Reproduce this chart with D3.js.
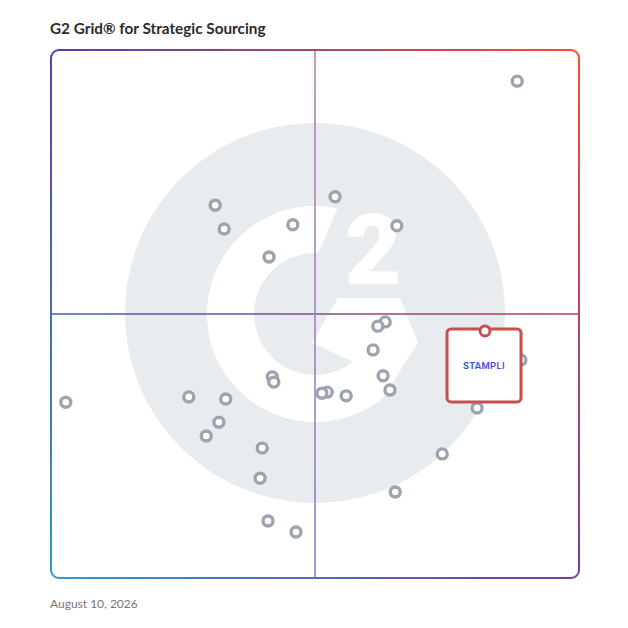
<!DOCTYPE html>
<html>
<head>
<meta charset="utf-8">
<script src="https://cdn.jsdelivr.net/npm/d3@7"></script>
<style>
  body { margin: 0; background: #fff; }
  svg { display: block; }
</style>
</head>
<body>
<script>
// DATA
// market presence (x) and satisfaction (y), 0-100 scale
const marketPresence = [88.3, 31.1, 32.8, 45.8, 53.8, 65.5, 41.3, 63.3, 61.9, 61.0,
  62.9, 64.2, 89.0, 80.7, 41.9, 42.2, 52.3, 51.3, 55.9, 26.1,
  33.1, 31.8, 29.4, 2.8, 40.0, 74.1, 39.6, 65.2, 41.1, 46.4];
const satisfaction = [94.1, 70.6, 66.1, 66.9, 72.2, 66.7, 60.8, 48.5, 47.7, 43.2,
  38.3, 35.6, 41.3, 32.2, 38.1, 37.1, 35.2, 35.0, 34.5, 34.3,
  33.9, 29.5, 26.9, 33.3, 24.6, 23.5, 18.9, 16.3, 10.8, 8.7];
const highlightName = ["STAMPLI"];
const highlightValue = [{x: 82.2, y: 46.8}];
const titleText = "G2 Grid\u00ae for Strategic Sourcing";
const dateText = "August 10, 2026";

const W = 628, H = 628;
const box = {left: 51, top: 50, right: 579, bottom: 578};

const svg = d3.select("body").append("svg")
  .attr("width", W).attr("height", H);

const x = d3.scaleLinear().domain([0, 100]).range([box.left, box.right]);
const y = d3.scaleLinear().domain([0, 100]).range([box.bottom, box.top]);

const defs = svg.append("defs");
function grad(id, x1, y1, x2, y2, c1, c2) {
  const g = defs.append("linearGradient").attr("id", id)
    .attr("gradientUnits", "userSpaceOnUse")
    .attr("x1", x1).attr("y1", y1).attr("x2", x2).attr("y2", y2);
  g.append("stop").attr("offset", 0).attr("stop-color", c1);
  g.append("stop").attr("offset", 1).attr("stop-color", c2);
}
const cTL = "#5a3db2", cTR = "#f4502a", cBR = "#7c3a9c", cBL = "#2b9ad6";
grad("gTop", box.left, 0, box.right, 0, cTL, cTR);
grad("gBottom", box.left, 0, box.right, 0, cBL, cBR);
grad("gLeft", 0, box.top, 0, box.bottom, cTL, cBL);
grad("gRight", 0, box.top, 0, box.bottom, cTR, cBR);
grad("gMidH", box.left, 0, box.right, 0, "#3a60b6", "#bd3d58");
grad("gMidV", 0, box.top, 0, box.bottom, "#b784b0", "#8a80cc");

const logoGrad = defs.append("linearGradient").attr("id", "gLogo")
  .attr("x1", 0).attr("x2", 1).attr("y1", 0).attr("y2", 0);
logoGrad.append("stop").attr("offset", 0).attr("stop-color", "#2453d6");
logoGrad.append("stop").attr("offset", 0.6).attr("stop-color", "#4a4ad2");
logoGrad.append("stop").attr("offset", 1).attr("stop-color", "#8a3fc8");

// background G2 mark
const cx = x(50), cy = y(50);
const bg = svg.append("g");
bg.append("circle").attr("cx", cx).attr("cy", cy - 1).attr("r", 190)
  .attr("fill", "#e9ecef");

const rad = d => d * Math.PI / 180;
const R = 108, r = 61;
const c = d3.path();
c.moveTo(cx + R * Math.cos(rad(-78)), cy + R * Math.sin(rad(-78)));
c.arc(cx, cy, R, rad(-78), rad(53), true);
c.lineTo(cx + r * Math.cos(rad(47)), cy + r * Math.sin(rad(47)));
c.arc(cx, cy, r, rad(47), rad(-87), false);
c.closePath();
bg.append("path").attr("d", c.toString()).attr("fill", "#fff");

const chevron = [[338, 298], [400, 298], [418, 343], [380, 402], [352, 361], [312, 343]];
bg.append("path").attr("d", d3.line()(chevron) + "Z").attr("fill", "#fff");

bg.append("text").attr("x", 373).attr("y", 284)
  .attr("text-anchor", "middle")
  .attr("font-family", "Roboto, sans-serif").attr("font-weight", 900)
  .attr("font-size", 98).attr("fill", "#fff")
  .text("2");

// quadrant lines
svg.append("line")
  .attr("x1", box.left).attr("x2", box.right).attr("y1", cy).attr("y2", cy)
  .attr("stroke", "url(#gMidH)").attr("stroke-width", 1.6);
svg.append("line")
  .attr("x1", cx).attr("x2", cx).attr("y1", box.top).attr("y2", box.bottom)
  .attr("stroke", "url(#gMidV)").attr("stroke-width", 1.6);

// border, one gradient per side
const rx = 8;
const border = svg.append("g").attr("fill", "none").attr("stroke-width", 2);
const topSide = d3.path();
topSide.moveTo(box.left, box.top + rx);
topSide.arcTo(box.left, box.top, box.left + rx, box.top, rx);
topSide.lineTo(box.right - rx, box.top);
topSide.arcTo(box.right, box.top, box.right, box.top + rx, rx);
border.append("path").attr("d", topSide.toString()).attr("stroke", "url(#gTop)");
const botSide = d3.path();
botSide.moveTo(box.left, box.bottom - rx);
botSide.arcTo(box.left, box.bottom, box.left + rx, box.bottom, rx);
botSide.lineTo(box.right - rx, box.bottom);
botSide.arcTo(box.right, box.bottom, box.right, box.bottom - rx, rx);
border.append("path").attr("d", botSide.toString()).attr("stroke", "url(#gBottom)");
border.append("line").attr("x1", box.left).attr("x2", box.left)
  .attr("y1", box.top + rx).attr("y2", box.bottom - rx).attr("stroke", "url(#gLeft)");
border.append("line").attr("x1", box.right).attr("x2", box.right)
  .attr("y1", box.top + rx).attr("y2", box.bottom - rx).attr("stroke", "url(#gRight)");

// products
const pts = marketPresence.map((d, i) => ({x: d, y: satisfaction[i]}));
svg.append("g").selectAll("circle").data(pts).join("circle")
  .attr("cx", d => x(d.x)).attr("cy", d => y(d.y)).attr("r", 5)
  .attr("fill", "#fff").attr("stroke", "#9ea3b0").attr("stroke-width", 3.4);

// highlighted product card
const hl = svg.append("g").selectAll("g").data(highlightValue).join("g")
  .attr("transform", d => `translate(${x(d.x)},${y(d.y)})`);
hl.append("rect").attr("x", -38).attr("y", -2).attr("width", 74).attr("height", 73)
  .attr("rx", 4).attr("fill", "#fff").attr("stroke", "#c4504f").attr("stroke-width", 3);
hl.append("circle").attr("r", 5).attr("fill", "#fff")
  .attr("stroke", "#c4504f").attr("stroke-width", 3);
hl.append("text").attr("x", -1).attr("y", 38.5).attr("text-anchor", "middle")
  .attr("font-family", "Roboto, sans-serif").attr("font-weight", 600)
  .attr("font-size", 9.5).attr("letter-spacing", 0.3)
  .attr("fill", "url(#gLogo)")
  .text((d, i) => highlightName[i]);

// title and date
svg.append("text").attr("x", 50).attr("y", 34)
  .attr("font-family", "Lato, sans-serif").attr("font-weight", 700)
  .attr("font-size", 15.3).attr("fill", "#2b2b2b")
  .text(titleText);
svg.append("text").attr("x", 50).attr("y", 608)
  .attr("font-family", "Lato, sans-serif")
  .attr("font-size", 12).attr("fill", "#767676")
  .text(dateText);
</script>
</body>
</html>
